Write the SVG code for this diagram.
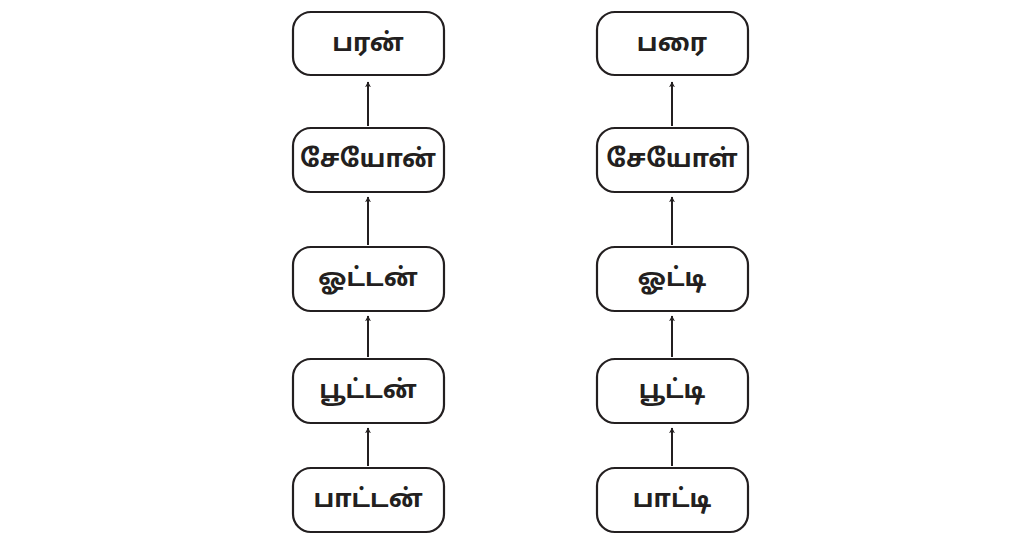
<svg xmlns="http://www.w3.org/2000/svg" width="1017" height="535" viewBox="0 0 1017 535">
<style>
.b{fill:#fff;stroke:#231f20;stroke-width:2.2}
.t{font-family:"Noto Sans Tamil","Noto Sans","Lato",sans-serif;font-weight:bold;font-size:25px;fill:#231f20;text-anchor:middle;dominant-baseline:central}
.c{stroke:#231f20;stroke-width:2;fill:none;marker-end:url(#a)}
</style>
<defs><marker id="a" viewBox="0 0 10 10" refX="9" refY="5" markerWidth="6" markerHeight="9" markerUnits="userSpaceOnUse" orient="auto"><path d="M0 0L10 5L0 10L3 5z" fill="#231f20" transform="scale(1)"/></marker></defs>
<g id="l1"><rect class="b" x="293" y="12" width="151" height="63" rx="18"/><text class="t" x="368" y="44">பரன்</text></g>
<g id="l2"><rect class="b" x="293" y="128" width="151" height="64" rx="18"/><text class="t" x="368" y="160">சேயோன்</text></g>
<g id="l3"><rect class="b" x="293" y="247" width="151" height="64" rx="18"/><text class="t" x="368" y="279">ஓட்டன்</text></g>
<g id="l4"><rect class="b" x="293" y="359" width="151" height="64" rx="18"/><text class="t" x="368" y="391">பூட்டன்</text></g>
<g id="l5"><rect class="b" x="293" y="468" width="151" height="64" rx="18"/><text class="t" x="368" y="500">பாட்டன்</text></g>
<g id="r1"><rect class="b" x="597" y="12" width="151" height="63" rx="18"/><text class="t" x="672" y="44">பரை</text></g>
<g id="r2"><rect class="b" x="597" y="128" width="151" height="64" rx="18"/><text class="t" x="672" y="160">சேயோள்</text></g>
<g id="r3"><rect class="b" x="597" y="247" width="151" height="64" rx="18"/><text class="t" x="672" y="279">ஓட்டி</text></g>
<g id="r4"><rect class="b" x="597" y="359" width="151" height="64" rx="18"/><text class="t" x="672" y="391">பூட்டி</text></g>
<g id="r5"><rect class="b" x="597" y="468" width="151" height="64" rx="18"/><text class="t" x="672" y="500">பாட்டி</text></g>
<g id="connectors">
<path class="c" d="M368 126V82"/><path class="c" d="M368 245V197"/><path class="c" d="M368 357V316"/><path class="c" d="M368 466V428"/>
<path class="c" d="M672 126V82"/><path class="c" d="M672 245V197"/><path class="c" d="M672 357V316"/><path class="c" d="M672 466V428"/>
</g>
</svg>
